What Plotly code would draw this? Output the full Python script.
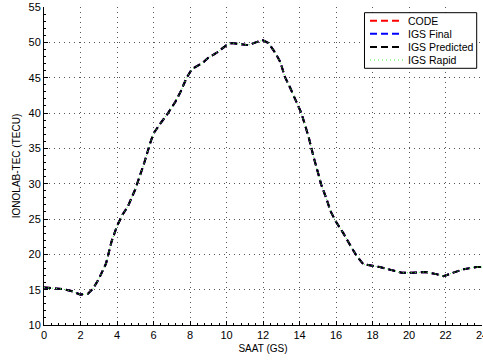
import plotly.graph_objects as go

hours = [0, 0.5, 1.0, 1.5, 2.0, 2.4, 2.7, 3.0, 3.4, 3.7, 4.0, 4.3, 4.6, 5.0, 5.2, 5.5, 5.8, 6.0,
         6.4, 6.8, 7.2, 7.5, 7.8, 8.1, 8.7, 9.0, 9.5, 10.0, 10.3, 10.8, 11.2, 11.6, 12.0, 12.3,
         12.7, 12.95, 13.2, 13.5, 13.85, 14.1, 14.3, 14.5, 14.75, 15.0, 15.2, 15.5, 15.7, 16.0,
         16.4, 16.8, 17.1, 17.5, 18.0, 18.4, 19.0, 19.6, 20.2, 20.9, 21.5, 21.9, 22.3, 23.0,
         23.7, 24.0]
tec = [15.3, 15.2, 15.1, 14.8, 14.3, 14.4, 15.2, 16.5, 18.7, 21.8, 24.0, 25.6, 26.8, 29.2, 30.6,
       33.0, 35.6, 37.1, 38.6, 40.0, 41.6, 43.1, 44.9, 46.2, 47.1, 47.8, 48.6, 49.6, 49.9, 49.7,
       49.6, 50.0, 50.3, 49.9, 48.4, 47.2, 45.1, 43.5, 41.6, 40.0, 38.3, 36.6, 34.0, 31.5, 29.8,
       27.7, 26.1, 24.6, 23.0, 21.2, 19.9, 18.6, 18.4, 18.2, 17.8, 17.4, 17.4, 17.5, 17.2, 16.9,
       17.3, 17.9, 18.2, 18.2]

code_tec = tec
igs_final = tec
igs_predicted = tec
igs_rapid = tec

series_names = ["CODE", "IGS Final", "IGS Predicted", "IGS Rapid"]
series_colors = ["#ff0000", "#0000ff", "#000000", "#44ee44"]
series_dash = ["7px,4px", "7px,4px", "7px,4px", "1px,3px"]
series_width = [2, 2, 2, 1]
series_values = [code_tec, igs_final, igs_predicted, igs_rapid]
x_ticks = list(range(0, 25, 2))
y_ticks = list(range(10, 56, 5))

fig = go.Figure()
for name, vals, col, dash, w in zip(series_names, series_values, series_colors, series_dash, series_width):
    fig.add_trace(go.Scatter(x=hours, y=vals, name=name, mode="lines",
                             line=dict(color=col, width=w, dash=dash), showlegend=False))

font = "Liberation Sans, Arial, sans-serif"

# Manual legend (MATLAB style, compact)
box_x0, box_x1, box_y0, box_y1 = 0.7317, 0.9879, 0.8072, 0.9821
line_x0, line_x1, text_x = 0.7443, 0.8196, 0.8265
entry_y = [0.9569, 0.9160, 0.8742, 0.8333]
shapes = [dict(type="rect", xref="paper", yref="paper", x0=box_x0, x1=box_x1, y0=box_y0, y1=box_y1,
               fillcolor="white", line=dict(color="black", width=1), layer="above")]
annotations = []
for name, col, dash, w, yy in zip(series_names, series_colors, series_dash, series_width, entry_y):
    shapes.append(dict(type="line", xref="paper", yref="paper", x0=line_x0, x1=line_x1, y0=yy, y1=yy,
                       line=dict(color=col, width=w, dash=dash), layer="above"))
    annotations.append(dict(text=name, xref="paper", yref="paper", x=text_x, y=yy,
                            xanchor="left", yanchor="middle", showarrow=False,
                            font=dict(size=10.5, family=font, color="black")))

fig.update_layout(
    width=483, height=362,
    margin=dict(l=44, r=1, t=7, b=37),
    paper_bgcolor="white", plot_bgcolor="white",
    font=dict(family=font, size=11, color="black"),
    showlegend=False,
    shapes=shapes, annotations=annotations,
    xaxis=dict(range=[0, 24], tickvals=x_ticks, ticktext=[str(v) for v in x_ticks],
               automargin=False,
               showline=True, linecolor="black", linewidth=1, mirror=False,
               ticks="inside", ticklen=4, tickcolor="black", ticklabeloverflow="allow",
               showgrid=True, gridcolor="#555555", griddash="1px,4px", gridwidth=1,
               zeroline=False,
               minor=dict(ticks="inside", ticklen=2, tickcolor="black", dtick=0.4, showgrid=False),
               title=dict(text="SAAT (GS)", font=dict(size=10), standoff=4)),
    yaxis=dict(range=[10, 55], tickvals=y_ticks, ticktext=[str(v) for v in y_ticks],
               automargin=False,
               showline=True, linecolor="black", linewidth=1, mirror=False,
               ticks="inside", ticklen=4, tickcolor="black",
               showgrid=True, gridcolor="#555555", griddash="1px,4px", gridwidth=1,
               zeroline=False,
               minor=dict(ticks="inside", ticklen=2, tickcolor="black", dtick=1, showgrid=False),
               title=dict(text="IONOLAB-TEC (TECU)", font=dict(size=10), standoff=6)),
)

fig.write_html("out.html")
